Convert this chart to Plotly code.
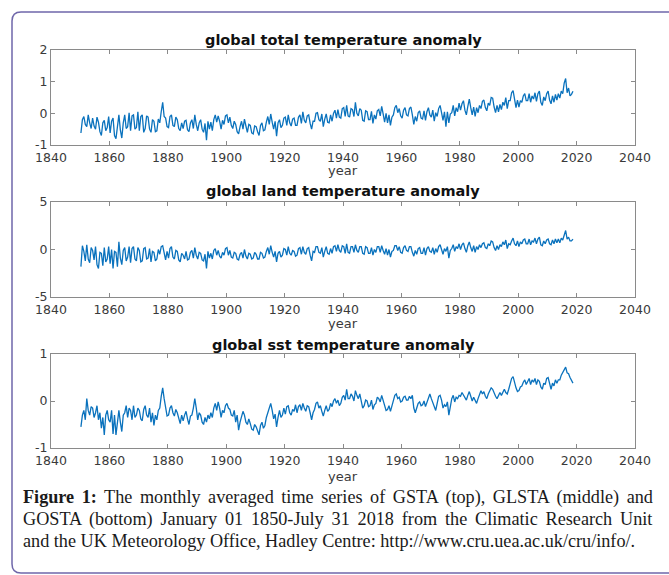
import plotly.graph_objects as go

W, H = 669, 575

# ---- data: two readings per year (first half, second half), 1850-2018 ----
years = list(range(1850, 2019))

gsta = [
    -0.62, -0.20, -0.10, -0.35, -0.42, -0.05, -0.30, -0.48, -0.15, -0.40,
    -0.50, -0.12, -0.28, -0.58, -0.70, -0.30, -0.22, -0.55, -0.45, -0.10,
    -0.62, -0.25, -0.15, -0.70, -0.80, -0.35, -0.05, -0.52, -0.78, -0.30,
    -0.05, -0.48, -0.42, 0.02, -0.55, -0.08, -0.05, -0.50, -0.45, 0.05,
    -0.55, -0.10, -0.05, -0.60, -0.48, -0.08, -0.12, -0.50, -0.60, -0.20,
    -0.25, -0.58, -0.55, -0.18, -0.30, 0.05, 0.35, -0.10, -0.15, -0.42,
    -0.45, -0.10, -0.05, -0.38, -0.42, -0.12, -0.20, -0.48, -0.55, -0.30,
    -0.48, -0.25, -0.22, -0.52, -0.58, -0.30, -0.20, -0.48, -0.05, -0.35,
    -0.55, -0.30, -0.20, -0.50, -0.60, -0.32, -0.85, -0.25, -0.50, -0.28,
    -0.55, -0.20, -0.05, -0.28, -0.08, -0.25, -0.50, -0.22, -0.35, -0.08,
    -0.05, -0.30, -0.12, -0.38, -0.48, -0.25, -0.35, -0.58, -0.65, -0.42,
    -0.25, -0.50, -0.18, -0.40, -0.60, -0.35, -0.38, -0.62, -0.65, -0.40,
    -0.42, -0.58, -0.70, -0.38, -0.30, -0.55, -0.52, -0.28, -0.10, -0.35,
    -0.02, -0.28, -0.50, -0.25, -0.72, -0.30, -0.20, -0.45, -0.38, -0.15,
    -0.12, -0.38, -0.05, -0.30, -0.40, -0.18, -0.15, -0.38, -0.38, -0.12,
    -0.05, -0.32, 0.05, -0.22, -0.30, -0.08, -0.05, -0.32, -0.50, -0.25,
    -0.25, 0.00, 0.02, -0.20, -0.25, -0.02, -0.42, -0.18, -0.02, -0.28,
    -0.30, -0.05, -0.25, 0.00, 0.10, -0.15, 0.12, -0.12, -0.15, 0.15,
    0.18, -0.10, 0.25, -0.08, -0.12, 0.15, 0.12, -0.10, 0.35, 0.00,
    -0.08, 0.15, 0.10, -0.22, -0.25, 0.08, 0.05, -0.20, -0.20, 0.06,
    -0.32, -0.05, -0.18, 0.08, 0.12, -0.08, 0.22, -0.02, -0.28, 0.00,
    -0.30, -0.05, -0.38, -0.12, -0.05, 0.18, 0.25, 0.02, 0.15, -0.08,
    -0.15, 0.10, 0.18, -0.05, -0.08, 0.15, 0.20, -0.05, -0.35, -0.10,
    -0.25, 0.02, 0.08, -0.15, -0.18, 0.08, -0.22, 0.05, 0.18, -0.05,
    -0.12, 0.10, -0.25, 0.02, -0.10, 0.15, 0.25, 0.02, -0.22, 0.05,
    -0.42, 0.05, -0.30, -0.02, 0.02, 0.25, -0.08, 0.18, 0.05, 0.32,
    0.10, 0.30, 0.40, 0.10, -0.05, 0.22, 0.45, 0.18, -0.05, 0.20,
    -0.10, 0.18, 0.02, 0.25, 0.15, 0.38, 0.42, 0.18, 0.08, 0.32,
    0.25, 0.50, 0.48, 0.20, 0.02, 0.25, 0.05, 0.28, 0.12, 0.35,
    0.25, 0.50, 0.15, 0.40, 0.40, 0.65, 0.72, 0.45, 0.18, 0.42,
    0.20, 0.40, 0.35, 0.55, 0.62, 0.40, 0.40, 0.62, 0.35, 0.55,
    0.45, 0.65, 0.38, 0.62, 0.70, 0.35, 0.25, 0.52, 0.40, 0.62,
    0.70, 0.42, 0.30, 0.55, 0.35, 0.60, 0.42, 0.62, 0.48, 0.70,
    0.62, 0.95, 1.10, 0.65, 0.80, 0.55, 0.60, 0.70,
]

glsta = [
    -1.8, 0.4, -0.2, -1.2, 0.5, -1.0, -1.4, 0.2, -0.1, -1.1,
    0.3, -1.6, -2.0, -0.3, -0.4, -1.7, 0.2, -1.3, -1.0, 0.3,
    -1.5, 0.0, -2.0, -0.2, -0.3, -1.8, 0.8, -0.9, -1.6, -0.1,
    0.2, -1.2, -0.8, 0.3, -1.4, 0.1, 0.3, -1.0, -1.2, 0.2,
    -0.1, -1.3, -1.2, 0.1, 0.2, -1.0, -0.9, 0.1, -1.3, -0.2,
    -0.3, -1.2, -1.0, 0.0, -0.5, 0.3, 0.4, -0.6, -1.1, -0.2,
    -0.9, 0.1, 0.3, -0.8, -1.0, -0.1, -0.2, -1.1, -1.3, -0.4,
    -0.6, -1.0, -0.2, -1.1, -1.0, -0.3, -0.1, -0.9, 0.2, -0.6,
    -1.0, -0.3, -0.4, -1.1, -1.2, -0.5, -2.0, -0.2, -0.9, -0.4,
    -1.0, -0.1, 0.1, -0.6, -0.1, -0.7, -0.9, -0.3, -0.6, 0.1,
    0.2, -0.6, -0.1, -0.8, -0.9, -0.3, -0.4, -1.0, -1.1, -0.5,
    -0.3, -0.9, 0.0, -0.7, -1.0, -0.4, -0.5, -1.0, -0.9, -0.3,
    -0.5, -1.0, -1.0, -0.3, -0.4, -0.9, -0.8, -0.2, 0.2, -0.5,
    0.4, -0.3, -0.8, -0.2, -1.3, -0.4, -0.2, -0.8, -0.6, 0.1,
    0.0, -0.6, 0.3, -0.4, -0.6, -0.1, -0.2, -0.7, -0.6, 0.1,
    0.2, -0.5, 0.3, -0.3, -0.5, 0.1, 0.2, -0.6, -1.2, -0.2,
    -0.3, 0.3, 0.3, -0.3, -0.4, 0.2, -0.8, -0.2, 0.3, -0.4,
    -0.5, 0.1, -0.4, 0.3, 0.4, -0.2, 0.5, -0.1, -0.3, 0.4,
    0.3, -0.4, 0.6, -0.3, -0.4, 0.3, 0.3, -0.3, 0.5, -0.1,
    -0.3, 0.3, 0.3, -0.4, -0.5, 0.3, 0.2, -0.4, -0.4, 0.2,
    -0.6, 0.0, -0.3, 0.3, 0.3, -0.3, 0.4, -0.1, -0.5, 0.1,
    -0.6, 0.0, -0.8, -0.2, -0.1, 0.4, 0.4, -0.1, 0.3, -0.3,
    -0.4, 0.2, 0.4, -0.1, -0.2, 0.3, 0.3, -0.3, -0.7, -0.1,
    -0.5, 0.1, 0.2, -0.4, -0.4, 0.2, -0.6, 0.1, 0.3, -0.2,
    -0.3, 0.2, -0.5, 0.1, -0.3, 0.3, 0.5, 0.0, -0.5, 0.1,
    -0.2, 0.3, -0.9, -0.1, 0.1, 0.5, -0.2, 0.3, 0.1, 0.6,
    0.0, 0.5, 0.7, 0.1, -0.3, 0.4, 0.8, 0.2, -0.2, 0.4,
    -0.3, 0.3, 0.0, 0.5, 0.2, 0.6, 0.7, 0.2, 0.1, 0.6,
    0.4, 0.9, 0.8, 0.2, -0.1, 0.4, 0.0, 0.5, 0.3, 0.8,
    0.5, 1.0, 0.1, 0.6, 0.5, 0.9, 1.2, 0.6, 0.4, 0.9,
    0.3, 0.8, 0.6, 1.0, 1.1, 0.6, 0.6, 1.1, 0.5, 0.9,
    0.8, 1.2, 0.6, 1.1, 1.3, 0.5, 0.4, 0.9, 0.6, 1.0,
    1.1, 0.6, 0.5, 1.0, 0.6, 1.1, 0.7, 1.1, 0.7, 1.2,
    1.0, 1.5, 2.0, 1.1, 1.3, 0.9, 0.9, 1.1,
]

gosta = [
    -0.55, -0.30, -0.20, -0.40, 0.05, -0.20, -0.30, -0.12, -0.15, -0.35,
    -0.25, -0.10, -0.40, -0.25, -0.58, -0.35, -0.72, -0.30, -0.20, -0.40,
    -0.45, -0.20, -0.70, -0.30, -0.72, -0.40, -0.20, -0.45, -0.65, -0.30,
    -0.25, -0.10, -0.35, -0.15, -0.20, -0.40, -0.10, -0.35, -0.30, -0.15,
    -0.20, -0.38, -0.42, -0.18, -0.10, -0.30, -0.35, -0.15, -0.45, -0.25,
    -0.52, -0.30, -0.40, -0.20, -0.15, 0.10, 0.28, 0.05, -0.18, -0.32,
    -0.30, -0.15, -0.10, -0.25, -0.32, -0.18, -0.25, -0.40, -0.48, -0.30,
    -0.42, -0.30, -0.22, -0.38, -0.50, -0.32, -0.30, -0.15, 0.05, -0.15,
    -0.40, -0.25, -0.30, -0.45, -0.50, -0.35, -0.45, -0.30, -0.38, -0.25,
    -0.35, -0.15, -0.05, -0.20, -0.02, -0.15, -0.35, -0.20, -0.25, -0.10,
    -0.05, -0.15, -0.18, -0.30, -0.32, -0.20, -0.45, -0.30, -0.62, -0.45,
    -0.35, -0.22, -0.30, -0.45, -0.50, -0.38, -0.48, -0.60, -0.62, -0.50,
    -0.55, -0.65, -0.72, -0.52, -0.45, -0.58, -0.52, -0.35, -0.25, -0.10,
    -0.05, -0.20, -0.38, -0.28, -0.55, -0.35, -0.20, -0.35, -0.30, -0.15,
    -0.28, -0.12, -0.10, -0.25, -0.30, -0.18, -0.22, -0.08, -0.25, -0.12,
    -0.08, -0.20, -0.05, -0.15, -0.22, -0.10, -0.12, -0.25, -0.40, -0.25,
    -0.18, -0.05, -0.02, -0.15, -0.10, -0.22, -0.32, -0.20, -0.10, -0.22,
    -0.18, -0.05, -0.12, 0.00, 0.05, -0.05, 0.02, -0.10, -0.05, 0.08,
    0.12, 0.02, 0.25, 0.05, 0.05, 0.15, 0.10, 0.00, 0.22, 0.12,
    0.05, 0.15, -0.05, -0.15, -0.10, 0.02, 0.00, -0.12, -0.10, 0.02,
    -0.18, -0.08, -0.05, 0.08, 0.05, -0.02, 0.12, 0.02, -0.12, -0.20,
    -0.18, -0.10, -0.22, -0.12, 0.02, 0.12, 0.15, 0.05, 0.08, -0.02,
    0.00, 0.08, 0.10, 0.02, 0.02, 0.10, 0.05, 0.12, -0.15, -0.25,
    -0.15, -0.05, -0.02, -0.10, -0.08, 0.00, -0.12, -0.02, 0.08, 0.15,
    0.05, -0.05, -0.12, -0.20, -0.05, 0.10, 0.12, 0.02, -0.15, -0.08,
    -0.12, -0.02, -0.30, -0.15, 0.05, 0.12, -0.02, 0.08, 0.05, 0.12,
    0.10, 0.18, 0.12, 0.05, 0.02, 0.12, 0.20, 0.10, 0.00, 0.08,
    0.02, -0.05, 0.05, 0.12, 0.22, 0.15, 0.20, 0.10, 0.05, 0.15,
    0.22, 0.28, 0.25, 0.15, 0.10, 0.05, 0.10, 0.18, 0.12, 0.20,
    0.25, 0.18, 0.15, 0.25, 0.35, 0.48, 0.52, 0.38, 0.28, 0.20,
    0.22, 0.30, 0.32, 0.40, 0.45, 0.35, 0.40, 0.48, 0.35, 0.45,
    0.40, 0.48, 0.35, 0.45, 0.42, 0.30, 0.25, 0.38, 0.35, 0.48,
    0.50, 0.35, 0.25, 0.38, 0.32, 0.45, 0.38, 0.45, 0.45, 0.55,
    0.60, 0.68, 0.72, 0.60, 0.58, 0.50, 0.45, 0.38,
]

x_ticks = [1840, 1860, 1880, 1900, 1920, 1940, 1960, 1980, 2000, 2020, 2040]
panels = [
    ("global total temperature anomaly", gsta, [-1, 0, 1, 2], [-1, 2]),
    ("global land temperature anomaly", glsta, [-5, 0, 5], [-5, 5]),
    ("global sst temperature anomaly", gosta, [-1, 0, 1], [-1, 1]),
]
caption_lines = [
    "<b>Figure 1:</b> The monthly averaged time series of GSTA (top), GLSTA (middle) and",
    "GOSTA (bottom) January 01 1850-July 31 2018 from the Climatic Research Unit",
    "and the UK Meteorology Office, Hadley Centre: http://www.cru.uea.ac.uk/cru/info/.",
]
caption_word_spacing = [3.0, 3.3, 0.0]   # justified first two lines

# x positions for the two readings of each year
xs = []
for y in years:
    xs.append(y + 0.25)
    xs.append(y + 0.75)

# ---- layout helpers (pixels -> paper) ----
def px(x):
    return x / W

def py(y):
    return 1 - y / H

box_left, box_right = 51, 635
boxes = [(50, 145), (202, 297), (354, 448)]
title_y = [40, 191, 345]
xlab_y = [170, 323, 476]

AX_COL = "#8a8a8a"
TXT_COL = "#3a3a3a"
LINE_COL = "#0a72bd"

fig = go.Figure()
layout = dict(
    width=W, height=H,
    margin=dict(l=0, r=0, t=0, b=0, autoexpand=False),
    paper_bgcolor="white", plot_bgcolor="white",
    showlegend=False,
    font=dict(family="DejaVu Sans", size=12.5, color=TXT_COL),
)
annotations = []

for i, (title, vals, yt, yr) in enumerate(panels):
    n = "" if i == 0 else str(i + 1)
    top, bot = boxes[i]
    fig.add_trace(go.Scatter(
        x=xs, y=vals, mode="lines",
        line=dict(color=LINE_COL, width=1.3),
        xaxis="x" + n, yaxis="y" + n, hoverinfo="skip",
    ))
    layout["xaxis" + n] = dict(
        domain=[px(box_left), px(box_right)], anchor="y" + n,
        range=[1840, 2040], tickvals=x_ticks,
        ticktext=[str(t) for t in x_ticks],
        showgrid=False, zeroline=False, automargin=False,
        showline=True, linecolor=AX_COL, linewidth=1, mirror="ticks",
        ticks="inside", ticklen=4, tickcolor=AX_COL,
        tickfont=dict(size=12.5, color=TXT_COL), ticklabelstandoff=1,
    )
    layout["yaxis" + n] = dict(
        domain=[py(bot), py(top)], anchor="x" + n,
        range=yr, tickvals=yt, ticktext=[str(t) for t in yt],
        showgrid=False, zeroline=False, automargin=False,
        showline=True, linecolor=AX_COL, linewidth=1, mirror="ticks",
        ticks="inside", ticklen=4, tickcolor=AX_COL,
        tickfont=dict(size=12.5, color=TXT_COL),
    )
    annotations.append(dict(
        text="<b>" + title + "</b>", x=px((box_left + box_right) / 2),
        y=py(title_y[i]), xref="paper", yref="paper",
        xanchor="center", yanchor="middle", showarrow=False,
        font=dict(family="DejaVu Sans", size=14.5, color="#111111"),
    ))
    annotations.append(dict(
        text="year", x=px((box_left + box_right) / 2), y=py(xlab_y[i]),
        xref="paper", yref="paper", xanchor="center", yanchor="middle",
        showarrow=False, font=dict(family="DejaVu Sans", size=13, color=TXT_COL),
    ))

cap_y = [497, 519, 541]
for line, yy, ws in zip(caption_lines, cap_y, caption_word_spacing):
    txt = f'<span style="word-spacing:{ws}px">{line}</span>' if ws else line
    annotations.append(dict(
        text=txt, x=px(21), y=py(yy), xref="paper", yref="paper",
        xanchor="left", yanchor="middle", showarrow=False,
        font=dict(family="Liberation Serif", size=18.2, color="#1a1a1a"),
    ))

layout["annotations"] = annotations

# rounded border frame
r = 9
x0, y0, x1, y1 = 12, 12, 700, 573
path = (
    f"M {px(x0 + r)},{py(y0)} L {px(x1)},{py(y0)} "
    f"M {px(x1)},{py(y1)} L {px(x0 + r)},{py(y1)} "
    f"Q {px(x0)},{py(y1)} {px(x0)},{py(y1 - r)} "
    f"L {px(x0)},{py(y0 + r)} Q {px(x0)},{py(y0)} {px(x0 + r)},{py(y0)}"
)
layout["shapes"] = [dict(
    type="path", path=path, xref="paper", yref="paper",
    line=dict(color="#6f67aa", width=1.5),
)]

fig.update_layout(**layout)
fig.write_html("out.html")
